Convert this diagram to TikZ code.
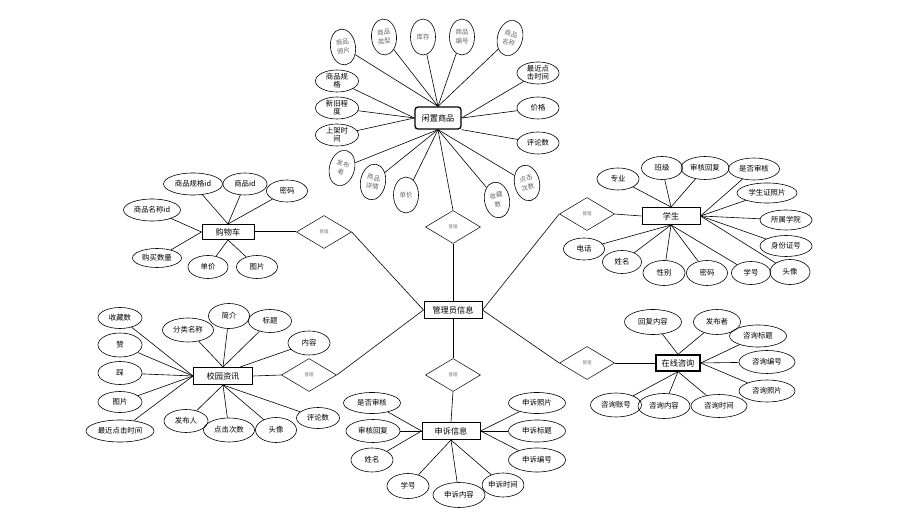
\documentclass[tikz,border=0pt]{standalone}
\usepackage{fontspec}
\newfontfamily\cjk{Noto Sans CJK SC}
\usetikzlibrary{shapes.geometric,calc}
\tikzset{
  attr/.style 2 args={ellipse,draw,line width=0.6pt,minimum width=#1pt,minimum height=#2pt,inner sep=0pt,align=center,font=\cjk\fontsize{7.4}{8}\selectfont},
  tattr/.style={ellipse,draw,line width=0.6pt,minimum width=25pt,minimum height=36pt,inner sep=0pt,align=center,text=black!60,font=\cjk\fontsize{6.5}{9}\selectfont},
  ent/.style 2 args={rectangle,draw,line width=1pt,minimum width=#1pt,minimum height=#2pt,inner sep=0pt,font=\cjk\fontsize{8.2}{9}\selectfont},
  rel/.style={diamond,draw,line width=0.5pt,minimum width=55pt,minimum height=33pt,inner sep=0pt,text=black!55,font=\cjk\fontsize{4.5}{5}\selectfont},
  conn/.style={line width=0.6pt},
}
\begin{document}
\begin{tikzpicture}[x=1pt,y=-1pt]
\useasboundingbox (0,0) rectangle (922,521);
% ---------- central ----------
\node[ent={58}{17}] (m) at (453,310) {管理员信息};
\node[rel] (gd) at (453,227) {管理};
\node[rel] (pd) at (453,375) {管理};
\node[rel] (cd) at (324,232) {管理};
\node[rel] (xd) at (309,375) {管理};
\node[rel] (sd) at (587,214) {管理};
\node[rel] (qd) at (587,363) {管理};
% ---------- goods ----------
\node[ent={46}{22},rounded corners=3pt,line width=1.3pt] (g) at (438,118) {闲置商品};
\node[tattr,rotate=8] (g1) at (343,47) {商品\\照片};
\node[tattr,rotate=4] (g2) at (384,37) {商品\\类型};
\node[tattr] (g3) at (423,37) {库存};
\node[tattr] (g4) at (462,37) {商品\\编号};
\node[tattr,rotate=-15] (g5) at (510,38) {商品\\名称};
\node[attr={43}{22}] (g6) at (337,81) {商品规\\格};
\node[attr={43}{22}] (g7) at (337,108) {新旧程\\度};
\node[attr={43}{22}] (g8) at (337,135) {上架时\\间};
\node[attr={42}{22}] (g9) at (538,73) {最近点\\击时间};
\node[attr={42}{22}] (g10) at (538,108) {价格};
\node[attr={42}{22}] (g11) at (538,143) {评论数};
\node[tattr,rotate=-15] (g12) at (342,168) {发布\\者};
\node[tattr,rotate=-10] (g13) at (373,182) {商品\\详情};
\node[tattr] (g14) at (406,195) {单价};
\node[tattr,rotate=10] (g15) at (497,200) {收藏\\数};
\node[tattr,rotate=12] (g16) at (527,183) {点击\\次数};
\foreach \i in {1,...,5} \draw[conn] (g\i) -- (g.north);
\foreach \i in {6,7,8} \draw[conn] (g\i) -- (g.west);
\foreach \i in {9,10} \draw[conn] (g\i) -- (g.east);
\draw[conn] (g11) -- (g.south east);
\foreach \i in {12,...,16} \draw[conn] (g\i) -- (g.south);
% ---------- cart ----------
\node[ent={52}{15}] (c) at (228,232) {购物车};
\node[attr={59}{22}] (c1) at (193,184) {商品规格id};
\node[attr={44}{22}] (c2) at (245,184) {商品id};
\node[attr={41}{22}] (c3) at (287,191) {密码};
\node[attr={57}{22}] (c4) at (152,210) {商品名称id};
\node[attr={49}{19}] (c5) at (157,258) {购买数量};
\node[attr={40}{23}] (c6) at (208,267) {单价};
\node[attr={41}{23}] (c7) at (257,267) {图片};
\foreach \i in {1,2,3} \draw[conn] (c\i) -- (c.north);
\foreach \i in {4,5} \draw[conn] (c\i) -- (c.west);
\foreach \i in {6,7} \draw[conn] (c\i) -- (c.south);
% ---------- student ----------
\node[ent={58}{17}] (s) at (671,216) {学生};
\node[attr={42}{22}] (s1) at (618,179) {专业};
\node[attr={41}{23}] (s2) at (662,168) {班级};
\node[attr={48}{23}] (s3) at (705,168) {审核回复};
\node[attr={51}{22}] (s4) at (754,169) {是否审核};
\node[attr={60}{20}] (s5) at (767,193) {学生证照片};
\node[attr={52}{20}] (s6) at (786,220) {所属学院};
\node[attr={52}{21}] (s7) at (786,246) {身份证号};
\node[attr={40}{25}] (s8) at (790,272) {头像};
\node[attr={39}{23}] (s9) at (751,273) {学号};
\node[attr={41}{25}] (s10) at (707,273) {密码};
\node[attr={42}{25}] (s11) at (664,273) {性别};
\node[attr={39}{23}] (s12) at (622,262) {姓名};
\node[attr={41}{22}] (s13) at (584,249) {电话};
\foreach \i in {1,2,3} \draw[conn] (s\i) -- (s.north);
\foreach \i in {4,5,6,7,8} \draw[conn] (s\i) -- (s.east);
\foreach \i in {9,...,13} \draw[conn] (s\i) -- (s.south);
% ---------- campus ----------
\node[ent={59}{17}] (x) at (223,376) {校园资讯};
\coordinate (xne) at ($(x.north)+(17,0)$);
\node[attr={44}{21}] (x1) at (120,318) {收藏数};
\node[attr={44}{24}] (x2) at (120,345) {赞};
\node[attr={44}{23}] (x3) at (120,373) {踩};
\node[attr={44}{21}] (x4) at (120,402) {图片};
\node[attr={68}{22}] (x5) at (120,431) {最近点击时间};
\node[attr={51}{24}] (x6) at (188,330) {分类名称};
\node[attr={41}{25}] (x7) at (229,316) {简介};
\node[attr={43}{23}] (x8) at (270,321) {标题};
\node[attr={42}{24}] (x9) at (309,343) {内容};
\node[attr={43}{21}] (x10) at (318,418) {评论数};
\node[attr={44}{23}] (x11) at (186,421) {发布人};
\node[attr={51}{24}] (x12) at (229,430) {点击次数};
\node[attr={41}{25}] (x13) at (276,430) {头像};
\foreach \i in {1,...,5} \draw[conn] (x\i) -- (x.west);
\foreach \i in {6,7,8} \draw[conn] (x\i) -- (x.north);
\draw[conn] (x9) -- (xne);
\foreach \i in {10,...,13} \draw[conn] (x\i) -- (x.south);
% ---------- complaint ----------
\node[ent={58}{17}] (p) at (451,431) {申诉信息};
\node[attr={57}{21}] (p1) at (372,403) {是否审核};
\node[attr={54}{23}] (p2) at (373,431) {审核回复};
\node[attr={42}{24}] (p3) at (372,460) {姓名};
\node[attr={42}{25}] (p4) at (408,486) {学号};
\node[attr={52}{25}] (p5) at (459,495) {申诉内容};
\node[attr={41}{24}] (p6) at (503,485) {申诉时间};
\node[attr={57}{21}] (p7) at (537,403) {申诉照片};
\node[attr={57}{22}] (p8) at (537,431) {申诉标题};
\node[attr={57}{24}] (p9) at (537,460) {申诉编号};
\foreach \i in {1,2,3} \draw[conn] (p\i) -- (p.west);
\foreach \i in {4,5,6} \draw[conn] (p\i) -- (p.south);
\foreach \i in {7,8,9} \draw[conn] (p\i) -- (p.east);
% ---------- consult ----------
\node[ent={44}{16},line width=1.3pt] (q) at (678,363) {在线咨询};
\node[attr={57}{25}] (q1) at (653,322) {回复内容};
\node[attr={47}{25}] (q2) at (717,322) {发布者};
\node[attr={57}{22}] (q3) at (758,336) {咨询标题};
\node[attr={56}{23}] (q4) at (767,362) {咨询编号};
\node[attr={56}{22}] (q5) at (767,391) {咨询照片};
\node[attr={56}{23}] (q6) at (719,406) {咨询时间};
\node[attr={52}{25}] (q7) at (664,406) {咨询内容};
\node[attr={51}{24}] (q8) at (616,405) {咨询账号};
\foreach \i in {1,2} \draw[conn] (q\i) -- (q.north);
\foreach \i in {3,4,5} \draw[conn] (q\i) -- (q.east);
\foreach \i in {6,7,8} \draw[conn] (q\i) -- (q.south);
% ---------- relations ----------
\draw[conn] (m.north) -- (gd.south);
\draw[conn] (gd.north) -- (g.south);
\draw[conn] (m.south) -- (pd.north);
\draw[conn] (pd.south) -- (p.north);
\draw[conn] (m.west) -- (cd.east);
\draw[conn,line width=1pt] (cd.west) -- (c.east);
\draw[conn] (m.west) -- (xd.east);
\draw[conn] (xd.west) -- (x.east);
\draw[conn] (m.east) -- (sd.west);
\draw[conn] (sd.east) -- (s.west);
\draw[conn] (m.east) -- (qd.west);
\draw[conn] (qd.east) -- (q.west);
\end{tikzpicture}
\end{document}
